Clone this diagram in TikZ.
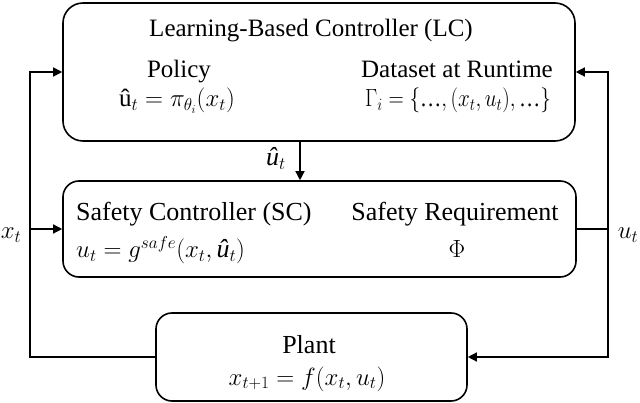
\documentclass[tikz,border=0pt]{standalone}
\usepackage{fontspec}
\usepackage{graphicx}
\setmainfont{Liberation Serif}
\usetikzlibrary{arrows.meta}
\newcommand{\uhi}{\mbox{\itshape û}}
\newcommand{\uhr}{\mbox{û}}
\begin{document}
\begin{tikzpicture}[x=1pt,y=-1pt,
  box/.style={draw, line width=1.6pt, rounded corners=20pt, inner sep=0pt},
  lbl/.style={font=\fontsize{25}{28}\selectfont, inner sep=0pt, anchor=base},
  big/.style={font=\fontsize{26}{29}\selectfont},
  conn/.style={line width=1.4pt},
  arr/.style={line width=1.4pt, -{Triangle[length=9pt,width=9pt]}}]
\useasboundingbox (0,0) rectangle (640,403);
% boxes
\node[box, minimum width=512pt, minimum height=138pt] (lc) at (319,72) {};
\node[box, minimum width=513pt, minimum height=96pt, rounded corners=16pt] (sc) at (319.5,229) {};
\node[box, minimum width=311pt, minimum height=88pt, rounded corners=16pt] (plant) at (311.5,357) {};
% LC texts
\node[lbl] (title) at (311,37) {Learning-Based Controller (LC)};
\node[lbl] (pol) at (179,78) {Policy};
\node[lbl] (polf) at (177,107) {$\uhr_t = \pi_{\theta_i}(x_t)$};
\node[lbl] (ds) at (457,78) {Dataset at Runtime};
\node[lbl] (dsf) at (458,107) {\scalebox{0.85}[1]{$\Gamma_i = \{\mbox{…}, (x_t, u_t), \mbox{…}\}$}};
% SC texts
\node[lbl, big, anchor=base west] (sct) at (76,221) {Safety Controller (SC)};
\node[lbl, big, anchor=base west] (scf) at (76,258) {$u_t = g^{safe}(x_t, \uhi_t)$};
\node[lbl, big] (sr) at (455,221) {Safety Requirement};
\node[lbl, big] (phi) at (457,258) {$\Phi$};
% Plant texts
\node[lbl, big] (pt) at (309,353) {Plant};
\node[lbl, big] (ptf) at (307,385) {$x_{t+1} = f(x_t, u_t)$};
% side labels
\node[lbl, big] (xl) at (11,239) {$x_t$};
\node[lbl, big] (ul) at (628,239) {$u_t$};
\node[lbl, big] (uh) at (276,166) {$\uhi_t$};
% coordinates
\coordinate (lt) at (30,72);
\coordinate (lm) at (30,229);
\coordinate (lb) at (30,357);
\coordinate (rt) at (608,72);
\coordinate (rm) at (608,229);
\coordinate (rb) at (608,357);
\coordinate (ax) at (300,0);
% connectors
\draw[arr] (plant.west) -- (lb) -- (lt) -- (lc.west);
\draw[arr] (lm) -- (sc.west);
\draw[conn] (sc.east) -- (rm);
\draw[arr] (rm) -- (rt) -- (lc.east);
\draw[arr] (rm) -- (rb) -- (plant.east);
\draw[arr] (lc.south -| ax) -- (sc.north -| ax);
\end{tikzpicture}
\end{document}
